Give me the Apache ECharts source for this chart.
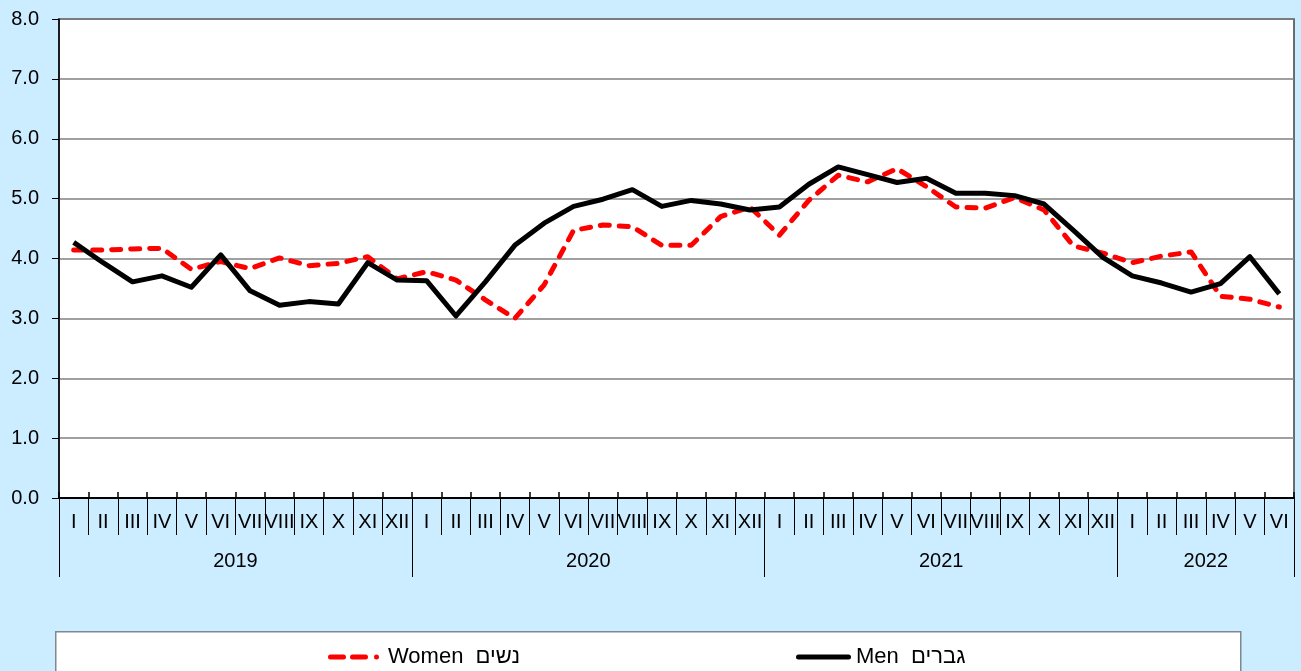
<!DOCTYPE html>
<html>
<head>
<meta charset="utf-8">
<script src="https://cdn.jsdelivr.net/npm/echarts@6/dist/echarts.min.js"></script>
<style>
  html, body { margin: 0; padding: 0; background: #CCECFF; }
  #chart { width: 1301px; height: 671px; }
</style>
</head>
<body>
<div id="chart"></div>
<script>
// ---- data ----
const monthNames = ['I','II','III','IV','V','VI','VII','VIII','IX','X','XI','XII'];
const yearLabels = ['2019','2020','2021','2022'];
const monthsPerYear = [12, 12, 12, 6];
const womenName = 'Women  נשים';
const menName = 'Men  גברים';
const women = [4.14,4.14,4.16,4.17,3.82,3.95,3.83,4.01,3.88,3.92,4.03,3.66,
               3.78,3.64,3.31,3.00,3.56,4.47,4.56,4.53,4.22,4.22,4.70,4.86,
               4.39,4.97,5.39,5.28,5.50,5.20,4.86,4.84,5.02,4.81,4.21,4.09,
               3.93,4.04,4.11,3.37,3.32,3.19];
const men = [4.27,3.93,3.61,3.71,3.52,4.06,3.46,3.22,3.28,3.24,3.93,3.64,
             3.63,3.04,3.61,4.22,4.59,4.87,4.99,5.15,4.87,4.97,4.91,4.81,
             4.86,5.24,5.53,5.40,5.27,5.34,5.09,5.09,5.05,4.91,4.47,4.02,
             3.71,3.59,3.44,3.58,4.03,3.41];

// ---- derived axis categories ----
const monthCats = [];
const boundaries = new Set([0]);
const mids = {};
let pos = 0;
monthsPerYear.forEach((n, yi) => {
  for (let m = 0; m < n; m++) monthCats.push(monthNames[m]);
  mids[pos + n / 2] = yearLabels[yi];
  pos += n;
  boundaries.add(pos);
});
const yearCats = [];
for (let i = 0; i <= pos; i++) yearCats.push(mids[i] !== undefined ? mids[i] : '');

const FONT = '"Liberation Sans", Arial, sans-serif';
const womenIcon = 'path://M2.5,0H15.5A2.5,2.5 0 0 1 15.5,5H2.5A2.5,2.5 0 0 1 2.5,0Z' +
  'M24.5,0H37.5A2.5,2.5 0 0 1 37.5,5H24.5A2.5,2.5 0 0 1 24.5,0Z' +
  'M46,2.5A2.5,2.5 0 1 1 51,2.5A2.5,2.5 0 1 1 46,2.5Z M0,0.01H0.01V0.02H0Z M54.99,4.98H55V5H54.99Z';
const menIcon = 'path://M2.5,0H52.5A2.5,2.5 0 0 1 52.5,5H2.5A2.5,2.5 0 0 1 2.5,0Z';

const chart = echarts.init(document.getElementById('chart'), null, { renderer: 'canvas' });
chart.setOption({
  backgroundColor: '#CCECFF',
  animation: false,
  textStyle: { fontFamily: FONT },
  grid: {
    left: 59, right: 7, top: 19, bottom: 173,
    show: true, backgroundColor: '#ffffff', borderColor: '#404040', borderWidth: 1.5
  },
  graphic: [{
    type: 'rect', left: 55, top: 631, z: 0,
    shape: { width: 1185, height: 60 },
    style: { fill: '#ffffff', stroke: '#7f8790', lineWidth: 1.5 }
  }],
  legend: [
    {
      data: [{ name: womenName, icon: womenIcon }], left: 323, top: 641,
      itemWidth: 55, itemHeight: 5, itemGap: 5,
      textStyle: { fontSize: 22, color: '#000', fontFamily: FONT }
    },
    {
      data: [{ name: menName, icon: menIcon }], left: 791, top: 641,
      itemWidth: 55, itemHeight: 5, itemGap: 5,
      textStyle: { fontSize: 22, color: '#000', fontFamily: FONT }
    }
  ],
  xAxis: [
    {
      type: 'category', data: monthCats, boundaryGap: true, position: 'bottom',
      axisLine: { show: true, lineStyle: { color: '#000', width: 2 } },
      axisTick: { show: true, length: 37, lineStyle: { color: '#000', width: 1 } },
      axisLabel: { interval: 0, margin: 14, fontSize: 20, color: '#000', fontFamily: FONT },
      splitLine: { show: false }
    },
    {
      type: 'category', data: monthCats, boundaryGap: true, position: 'bottom',
      axisLine: { show: false },
      axisTick: { show: true, inside: true, length: 6, lineStyle: { color: '#000', width: 1.5 } },
      axisLabel: { show: false },
      splitLine: { show: false }
    },
    {
      type: 'category', data: yearCats, boundaryGap: false, position: 'bottom',
      axisLine: { show: false },
      axisTick: {
        show: true, length: 79,
        interval: (i) => boundaries.has(i),
        lineStyle: { color: '#000', width: 1 }
      },
      axisLabel: {
        margin: 53, fontSize: 20, color: '#000', fontFamily: FONT,
        interval: (i) => mids[i] !== undefined
      },
      splitLine: { show: false }
    }
  ],
  yAxis: {
    type: 'value', min: 0, max: 8, interval: 1,
    axisLine: { show: true, lineStyle: { color: '#000', width: 1.5 } },
    axisTick: { show: true, length: 7, lineStyle: { color: '#000', width: 1 } },
    axisLabel: {
      margin: 20, fontSize: 20, color: '#000', fontFamily: FONT,
      formatter: (v) => v.toFixed(1)
    },
    splitLine: { show: true, lineStyle: { color: '#808080', width: 1.5 } }
  },
  series: [
    {
      name: womenName, type: 'line', data: women, xAxisIndex: 0, yAxisIndex: 0,
      symbol: 'none', smooth: false, z: 3,
      itemStyle: { color: '#FF0000' },
      lineStyle: { color: '#FF0000', width: 5, type: [9, 10], cap: 'round', join: 'round' }
    },
    {
      name: menName, type: 'line', data: men, xAxisIndex: 0, yAxisIndex: 0,
      symbol: 'none', smooth: false, z: 4,
      itemStyle: { color: '#000000' },
      lineStyle: { color: '#000000', width: 5, join: 'round' }
    }
  ]
});
</script>
</body>
</html>
